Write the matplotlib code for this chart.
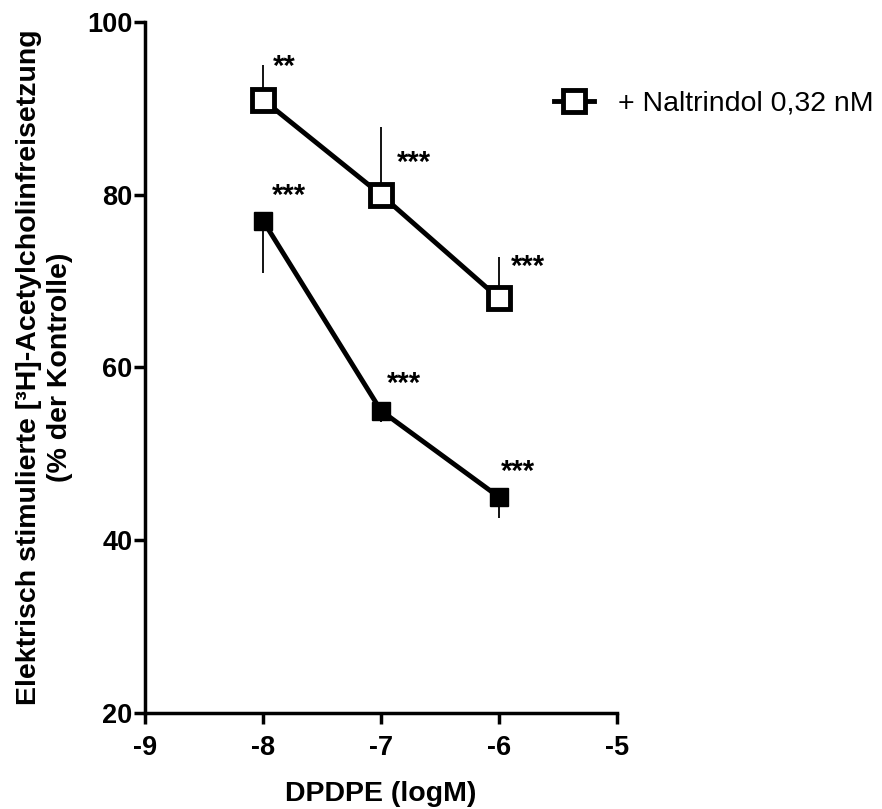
import matplotlib
matplotlib.use('Agg')
import matplotlib.pyplot as plt

plt.rcParams['font.family'] = ['Liberation Sans', 'DejaVu Sans']

# DPDPE concentrations (log M)
log_dose = [-8, -7, -6]

# DPDPE alone (filled squares), error drawn downward
dpdpe = [77, 55, 45]
dpdpe_err = [6.1, 1.3, 2.4]
dpdpe_stars = ['***', '***', '***']

# + Naltrindol 0.32 nM (open squares), error drawn upward
naltr = [91, 80, 68]
naltr_err = [4.0, 7.8, 4.8]
naltr_stars = ['**', '***', '***']

xticks = [-9, -8, -7, -6, -5]
yticks = [20, 40, 60, 80, 100]

fig = plt.figure(figsize=(8.82, 8.09), dpi=100)
ax = fig.add_axes([145 / 882, 1 - 713 / 809, 472 / 882, 691 / 809])

# filled squares
ax.errorbar(log_dose, dpdpe, yerr=[dpdpe_err, [0] * 3], fmt='none',
            ecolor='black', elinewidth=1.3, capsize=0, zorder=2)
ax.plot(log_dose, dpdpe, color='black', lw=3.5, marker='s', ms=13,
        mfc='black', mec='black', zorder=3)

# open squares
ax.errorbar(log_dose, naltr, yerr=[[0] * 3, naltr_err], fmt='none',
            ecolor='black', elinewidth=1.3, capsize=0, zorder=2)
ax.plot(log_dose, naltr, color='black', lw=3.5, marker='s', ms=15.5,
        mfc='white', mec='black', mew=3.5, zorder=3,
        label='+ Naltrindol 0,32 nM')

# significance stars
star_off_n = [(21, -33), (33, -32), (29, -31)]
star_off_d = [(26, -25), (23, -27), (19, -25)]
for x, y, s, off in zip(log_dose, naltr, naltr_stars, star_off_n):
    ax.annotate(s, (x, y), xytext=(off[0], -off[1]), textcoords='offset pixels',
                ha='center', va='center', fontsize=21, fontweight='bold')
for x, y, s, off in zip(log_dose, dpdpe, dpdpe_stars, star_off_d):
    ax.annotate(s, (x, y), xytext=(off[0], -off[1]), textcoords='offset pixels',
                ha='center', va='center', fontsize=21, fontweight='bold')

ax.set_xlim(-9, -5)
ax.set_ylim(20, 100)
ax.set_xticks(xticks)
ax.set_yticks(yticks)
ax.set_xticklabels([str(t) for t in xticks], fontsize=19.5, fontweight='bold')
ax.set_yticklabels([str(t) for t in yticks], fontsize=19.5, fontweight='bold')
ax.tick_params(direction='out', length=8, width=2.5)
ax.tick_params(axis='x', pad=8)
ax.tick_params(axis='y', pad=1)
for side in ['top', 'right']:
    ax.spines[side].set_visible(False)
for side in ['left', 'bottom']:
    ax.spines[side].set_linewidth(2.5)

ax.set_xlabel('DPDPE (logM)', fontsize=20.5, fontweight='bold', labelpad=14)
ax.set_ylabel('Elektrisch stimulierte [³H]-Acetylcholinfreisetzung\n(% der Kontrolle)',
              fontsize=20.5, fontweight='bold', labelpad=10, linespacing=1.25)

leg = ax.legend(loc='upper left', bbox_to_anchor=(409 / 472, 1 - 69 / 691),
                frameon=False, fontsize=20.5, handlelength=1.4, handletextpad=0.85,
                borderaxespad=0, borderpad=0)

fig.savefig('out.png', dpi=100)
